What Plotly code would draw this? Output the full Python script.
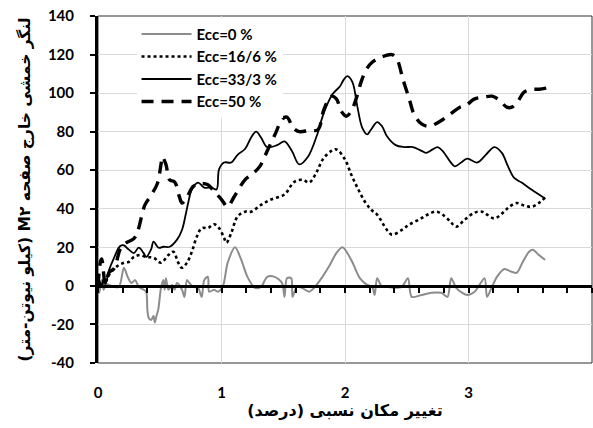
import plotly.graph_objects as go

# Relative drift (%) and out-of-plane bending moment M2 (kN·m) for each eccentricity
x_ecc0 = [0.00, 0.01, 0.03, 0.045, 0.07, 0.09, 0.13, 0.17, 0.21, 0.24, 0.27, 0.30, 0.33, 0.37,
          0.39, 0.40, 0.41, 0.43, 0.45, 0.46, 0.47, 0.49, 0.50, 0.51, 0.53, 0.54, 0.55, 0.57,
          0.60, 0.62, 0.64, 0.68, 0.70, 0.72, 0.74, 0.77, 0.81, 0.84, 0.86, 0.89, 0.90, 0.94,
          0.97, 1.01, 1.05, 1.11, 1.16, 1.21, 1.27, 1.32, 1.37, 1.43, 1.49, 1.51, 1.53, 1.565,
          1.575, 1.61, 1.65, 1.71, 1.75, 1.81, 1.87, 1.93, 1.98, 2.05, 2.12, 2.18, 2.22, 2.24,
          2.26, 2.30, 2.34, 2.40, 2.46, 2.51, 2.54, 2.62, 2.70, 2.78, 2.83, 2.86, 2.90, 2.95,
          2.99, 3.05, 3.13, 3.15, 3.19, 3.23, 3.29, 3.33, 3.39, 3.44, 3.49, 3.52, 3.57, 3.62]
y_ecc0 = [0, -3.6, 3, -2, 1, 0.5, -0.5, -0.5, 9.4, 4.7, 1.5, 3, -0.5, -2,
          -3, -12.5, -16.5, -17.7, -15.6, -19, -16.5, -11.5, -6, -1, 3, -2, 4, -2,
          0.5, -2, 1.5, -2, -5.7, 3, 1.5, -0.5, -1, -5.7, 3, 4.7, -3, -2,
          -3, -0.5, 12, 20, 13.5, 4.7, -1, -0.5, 4.7, 4.7, 1.5, -5.7, 4, 4,
          -5.7, -0.5, -1, -3, -1, 4, 10, 17, 20, 13.5, 4, 0.5, -0.5, -4.7,
          4, -0.5, -0.5, -1, -0.5, 4, -5.7, -4.7, -3.6, -3.6, -5.7, 4, -1, -3.6,
          -4.7, -3, 4, -5.7, -0.5, 4.7, 8.8, 7.8, 6.8, 12.5, 17.7, 18.7, 16, 13.5]

x_ecc16 = [0.00, 0.02, 0.045, 0.07, 0.09, 0.15, 0.21, 0.25, 0.29, 0.34, 0.39, 0.45, 0.51, 0.57,
           0.61, 0.65, 0.68, 0.72, 0.76, 0.80, 0.84, 0.89, 0.94, 0.98, 1.02, 1.04, 1.08, 1.13,
           1.19, 1.24, 1.32, 1.40, 1.51, 1.59, 1.66, 1.71, 1.77, 1.82, 1.89, 1.93, 2.00, 2.05,
           2.10, 2.16, 2.21, 2.26, 2.34, 2.38, 2.46, 2.52, 2.60, 2.67, 2.74, 2.81, 2.86, 2.90,
           2.97, 3.05, 3.11, 3.15, 3.21, 3.28, 3.33, 3.39, 3.45, 3.51, 3.57, 3.62]
y_ecc16 = [0, 2, -1, 3, 5.7, 10, 12, 12.5, 15, 16, 15, 14.6, 12, 16,
           17.7, 12, 9.4, 12, 17.7, 25.5, 30, 30, 32, 30, 25, 22.4, 27.6, 36,
           38.5, 38.5, 42, 44.8, 47.4, 54, 55, 53.6, 59, 65.6, 70, 70.8, 65.6, 57.8,
           51, 43.8, 39.6, 37, 29, 26.6, 29, 31.8, 34.4, 37, 38.5, 36, 32.8, 30.7,
           34.4, 38, 38.5, 37, 35, 38, 41, 43, 41.7, 41, 43, 45.8]

x_ecc33 = [0.00, 0.01, 0.03, 0.045, 0.06, 0.09, 0.13, 0.17, 0.19, 0.21, 0.25, 0.29, 0.33, 0.37,
           0.39, 0.43, 0.45, 0.49, 0.53, 0.58, 0.64, 0.68, 0.71, 0.73, 0.76, 0.81, 0.86, 0.92,
           0.96, 0.98, 1.02, 1.08, 1.13, 1.19, 1.24, 1.28, 1.32, 1.37, 1.45, 1.51, 1.57, 1.63,
           1.70, 1.77, 1.83, 1.90, 1.96, 1.99, 2.02, 2.06, 2.10, 2.14, 2.18, 2.21, 2.26, 2.30,
           2.34, 2.41, 2.48, 2.55, 2.62, 2.66, 2.71, 2.75, 2.79, 2.85, 2.89, 2.94, 2.99, 3.07,
           3.14, 3.21, 3.27, 3.32, 3.37, 3.43, 3.51, 3.62]
y_ecc33 = [0, 3, -0.5, 3.6, 1, 8.3, 14.6, 20, 21, 21, 18.8, 17, 19.8, 17,
           15, 19, 23, 19.8, 20.3, 20.3, 24, 29, 37, 43, 50, 53.6, 51, 51,
           50, 60.4, 64, 64, 68, 71, 77, 80, 77, 72, 73, 75, 70, 63,
           67, 77.6, 90, 99.5, 103.6, 107, 108.8, 105.7, 93, 82, 78.6, 81, 85, 82.8,
           77.6, 73, 72, 72, 70, 69, 70.8, 72, 70, 64.6, 62, 64, 66, 64,
           68, 72, 69, 62, 56, 53.6, 50, 45.3]

x_ecc50 = [0.00, 0.02, 0.03, 0.06, 0.09, 0.13, 0.18, 0.22, 0.29, 0.32, 0.38, 0.43, 0.48, 0.51,
           0.52, 0.55, 0.58, 0.62, 0.66, 0.68, 0.72, 0.77, 0.82, 0.89, 0.94, 1.00, 1.05, 1.10,
           1.19, 1.25, 1.31, 1.37, 1.44, 1.49, 1.53, 1.58, 1.63, 1.71, 1.78, 1.83, 1.89, 1.93,
           1.97, 2.01, 2.05, 2.09, 2.13, 2.17, 2.22, 2.30, 2.38, 2.42, 2.47, 2.52, 2.56, 2.62,
           2.68, 2.77, 2.85, 2.93, 2.98, 3.05, 3.13, 3.19, 3.25, 3.31, 3.35, 3.40, 3.45, 3.51,
           3.57, 3.63]
y_ecc50 = [0, 12.5, 14, 1, 7, 9, 19, 22, 24.5, 28, 42, 47, 53, 63,
           67, 63, 55, 54, 46, 43, 46, 51.5, 53, 52.5, 49, 44.8, 41, 46,
           55, 58, 62, 70, 79.5, 86.5, 87.5, 82, 80, 80.7, 81, 91.7, 98.4, 97,
           90.6, 88, 90.6, 97, 105.7, 112, 116, 118.8, 120, 117.7, 107, 97, 89, 84,
           82.8, 85.4, 89, 92.7, 93.7, 97, 98, 98.4, 96.4, 92.7, 92.7, 95.8, 100.5, 102,
           102, 102.6]

names = ["Ecc=0 %", "Ecc=16/6 %", "Ecc=33/3 %", "Ecc=50 %"]

x_ticks = [0, 1, 2, 3, 4]
y_ticks = [-40, -20, 0, 20, 40, 60, 80, 100, 120, 140]

x_title = "تغییر مکان نسبی (درصد)"
y_title = "لنگر خمشی خارج صفحه M۲ (کیلو نیوتن-متر)"


def rtl(text):
    # right-to-left embedding so the Persian titles read in the right order
    return "\u202b" + text + "\u202c"


FONT = "Lato, 'DejaVu Sans', sans-serif"
ARABIC_FONT = "'DejaVu Sans', sans-serif"

series = [
    (x_ecc0, y_ecc0, dict(color="#8c8c8c", width=2, dash="solid"), 0.8),
    (x_ecc16, y_ecc16, dict(color="black", width=2.6, dash="dot"), 1.0),
    (x_ecc33, y_ecc33, dict(color="black", width=1.8, dash="solid"), 1.0),
    (x_ecc50, y_ecc50, dict(color="black", width=3.4, dash="12px,8px"), 1.0),
]

fig = go.Figure()
for (xs, ys, line, smooth), name in zip(series, names):
    fig.add_trace(go.Scatter(
        x=xs, y=ys, mode="lines", name=name,
        line=dict(shape="spline", smoothing=smooth, **line),
        xaxis="x", yaxis="y",
    ))

# thin frame around the plot area
fig.add_shape(type="rect", xref="paper", yref="paper", x0=0, x1=1, y0=0, y1=1,
              line=dict(color="#303030", width=1), layer="below")

fig.update_layout(
    width=593, height=428,
    margin=dict(l=98, r=1, t=16, b=65),
    paper_bgcolor="white", plot_bgcolor="white",
    showlegend=True,
    legend=dict(
        x=0.078, y=0.995, xanchor="left", yanchor="top",
        bgcolor="white", borderwidth=0,
        font=dict(family=FONT, size=15, color="black", weight="bold"),
        itemwidth=50, tracegroupgap=0,
    ),
    xaxis=dict(
        range=[0, 4], tickvals=x_ticks, ticktext=[str(v) for v in x_ticks],
        showgrid=True, gridcolor="#d9d9d9", gridwidth=1,
        zeroline=False, showline=False, ticks="",
        tickfont=dict(family=FONT, size=15, color="black", weight="bold"),
        ticklabelstandoff=19,
        title=dict(text=rtl(x_title), standoff=0,
                   font=dict(family=ARABIC_FONT, size=16, color="black", weight="bold")),
    ),
    # horizontal axis line crossing at y = 0 with minor ticks every 0.2
    xaxis2=dict(
        range=[0, 4], overlaying="x", anchor="free", position=40 / 180, side="bottom",
        showline=True, linecolor="black", linewidth=3,
        ticks="outside", tickvals=[round(0.2 * i, 1) for i in range(21)],
        ticklen=5, tickwidth=2, tickcolor="black",
        showticklabels=False, showgrid=False, zeroline=False,
    ),
    yaxis=dict(
        range=[-40, 140], tickvals=y_ticks, ticktext=[str(v) for v in y_ticks],
        showgrid=True, gridcolor="#d9d9d9", gridwidth=1,
        zeroline=False, showline=True, linecolor="black", linewidth=3,
        ticks="outside", ticklen=5, tickwidth=2, tickcolor="black",
        tickfont=dict(family=FONT, size=15, color="black", weight="bold"),
        ticklabelstandoff=13,
        title=dict(text=rtl(y_title), standoff=14,
                   font=dict(family=ARABIC_FONT, size=15.5, color="black", weight="bold")),
    ),
)

# invisible trace to attach the y = 0 axis line
fig.add_trace(go.Scatter(x=[0, 4], y=[0, 0], xaxis="x2", yaxis="y", mode="lines",
                         line=dict(width=0), showlegend=False, hoverinfo="skip"))

fig.write_html("out.html")
